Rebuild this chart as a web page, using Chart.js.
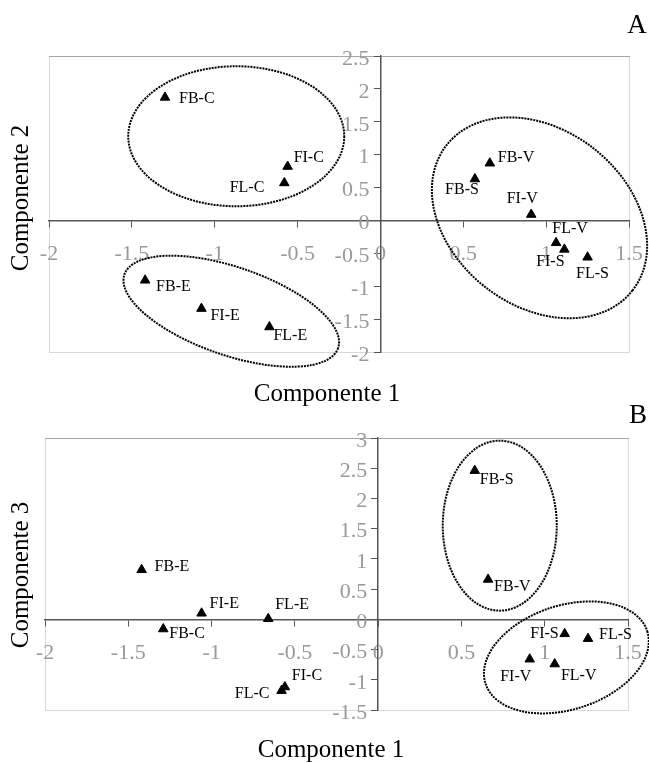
<!DOCTYPE html>
<html>
<head>
<meta charset="utf-8">
<script src="https://cdn.jsdelivr.net/npm/chart.js@4.4.1/dist/chart.umd.min.js"></script>
<style>
  body { margin: 0; background: #fff; }
  #paineis { position: relative; width: 649px; height: 763px; }
  #paineis canvas { position: absolute; left: 0; display: block; }
  #graficoA { top: 0; }
  #graficoB { top: 380px; }
</style>
</head>
<body>
<div id="paineis">
  <canvas id="graficoA" width="649" height="410"></canvas>
  <canvas id="graficoB" width="649" height="383"></canvas>
</div>
<script>
// Tratamentos (mesma ordem nos dois gráficos)
const tratamentos = ['FB-C', 'FI-C', 'FL-C', 'FB-E', 'FI-E', 'FL-E', 'FB-V', 'FB-S', 'FI-V', 'FL-V', 'FI-S', 'FL-S'];

// Gráfico A: componente 1 x componente 2
const componente1A = [-1.30, -0.56, -0.58, -1.42, -1.08, -0.67, 0.66, 0.57, 0.91, 1.06, 1.11, 1.25];
const componente2A = [1.87, 0.82, 0.57, -0.91, -1.34, -1.62, 0.87, 0.63, 0.09, -0.34, -0.44, -0.56];

// Gráfico B: componente 1 x componente 3
const componente1B = [-1.29, -0.56, -0.58, -1.42, -1.06, -0.66, 0.66, 0.58, 0.91, 1.06, 1.12, 1.26];
const componente3B = [-0.16, -1.12, -1.18, 0.82, 0.10, 0.01, 0.66, 2.46, -0.66, -0.74, -0.24, -0.32];

// Limites dos eixos
const limitesXA = [-2, 1.5];
const limitesYA = [-2, 2.5];
const limitesXB = [-2, 1.5];
const limitesYB = [-1.5, 3];

// Posição dos rótulos em relação ao ponto: [dx, dy, alinhamento]
const rotulosA = [
    [14, 1, 'left'], [6, -9, 'left'], [-20, 5, 'right'],
    [11, 6, 'left'], [9, 7, 'left'], [4, 9, 'left'],
    [8, -5, 'left'], [4, 11, 'right'], [-9, -16, 'center'],
    [14, -14, 'center'], [-14, 12, 'center'], [5, 17, 'center']
];
const rotulosB = [
    [6, 5, 'left'], [7, -11, 'left'], [-12, 3, 'right'],
    [13, -3, 'left'], [8, -9, 'left'], [7, -14, 'left'],
    [6, 7, 'left'], [5, 9, 'left'], [-14, 18, 'center'],
    [24, 12, 'center'], [-6, 0, 'right'], [11, -4, 'left']
];

// Elipses de agrupamento: centro em unidades dos eixos, raios em px, rotação em graus
const elipsesA = [
    { cx: -0.87, cy: 1.28, rx: 108, ry: 70, rot: 0 },
    { cx: -0.90, cy: -1.38, rx: 113, ry: 44, rot: 19 },
    { cx: 0.96, cy: 0.04, rx: 118, ry: 88, rot: 38 }
];
const elipsesB = [
    { cx: 0.73, cy: 1.55, rx: 57, ry: 85, rot: 0 },
    { cx: 1.13, cy: -0.63, rx: 85, ry: 52, rot: -18 }
];

const fonte = 'Liberation Serif';

// Plugin para moldura, elipses, rótulos e títulos
const anotacoes = {
    id: 'anotacoes',
    beforeDraw(chart, args, opts) {
        const { ctx, chartArea: a } = chart;
        ctx.save();
        ctx.lineWidth = 1;
        ctx.strokeStyle = '#d9d9d9';
        ctx.strokeRect(a.left + 0.5, a.top + 0.5, a.right - a.left, a.bottom - a.top);
        ctx.strokeStyle = '#a6a6a6';
        ctx.beginPath();
        ctx.moveTo(a.left, a.top + 0.5);
        ctx.lineTo(a.right + 1, a.top + 0.5);
        ctx.stroke();
        ctx.restore();
    },
    afterDatasetsDraw(chart, args, opts) {
        const { ctx } = chart;
        const x = chart.scales.x;
        const y = chart.scales.y;

        // elipses pontilhadas
        ctx.save();
        ctx.strokeStyle = '#000';
        ctx.lineWidth = 2;
        ctx.setLineDash([2, 1]);
        opts.elipses.forEach(e => {
            ctx.beginPath();
            ctx.ellipse(x.getPixelForValue(e.cx), y.getPixelForValue(e.cy), e.rx, e.ry,
                e.rot * Math.PI / 180, 0, 2 * Math.PI);
            ctx.stroke();
        });
        ctx.restore();

        // rótulos dos pontos
        const meta = chart.getDatasetMeta(0);
        ctx.save();
        ctx.font = '16px "' + fonte + '"';
        ctx.fillStyle = '#000';
        ctx.textBaseline = 'middle';
        meta.data.forEach((pt, i) => {
            const [dx, dy, al] = opts.rotulos[i];
            ctx.textAlign = al;
            ctx.fillText(tratamentos[i], pt.x + dx, pt.y + dy);
        });
        ctx.restore();

        // títulos dos eixos e letra do painel
        ctx.save();
        ctx.fillStyle = '#000';
        ctx.textBaseline = 'alphabetic';
        ctx.textAlign = 'center';
        ctx.font = '25px "' + fonte + '"';
        ctx.fillText(opts.tituloX, opts.posTituloX[0], opts.posTituloX[1]);
        ctx.save();
        ctx.translate(opts.posTituloY[0], opts.posTituloY[1]);
        ctx.rotate(-Math.PI / 2);
        ctx.fillText(opts.tituloY, 0, 0);
        ctx.restore();
        ctx.font = '27px "' + fonte + '"';
        ctx.fillText(opts.letra, opts.posLetra[0], opts.posLetra[1]);
        ctx.restore();
    }
};

function montarEixos(limX, limY) {
    const corEixo = '#555';
    const ticksComuns = {
        stepSize: 0.5,
        autoSkip: false,
        maxRotation: 0,
        color: '#999'
    };
    return {
        x: {
            type: 'linear',
            min: limX[0],
            max: limX[1],
            position: { y: 0 },
            border: { display: true, color: corEixo, width: 1.5 },
            grid: { drawOnChartArea: false, drawTicks: true, tickLength: 6, tickColor: corEixo },
            ticks: Object.assign({}, ticksComuns, {
                padding: 6,
                font: { family: fonte, size: 22, lineHeight: 2 },
                callback: v => String(v)
            })
        },
        y: {
            type: 'linear',
            min: limY[0],
            max: limY[1],
            position: { x: 0 },
            border: { display: true, color: corEixo, width: 1.5 },
            grid: { drawOnChartArea: false, drawTicks: true, tickLength: 6, tickColor: corEixo },
            ticks: Object.assign({}, ticksComuns, {
                labelOffset: 3,
                font: { family: fonte, size: 22 },
                callback: v => String(v) + '\u2002'
            })
        }
    };
}

function criarGrafico(idCanvas, valoresX, valoresY, limX, limY, padding, anot) {
    const pontos = valoresX.map((v, i) => ({ x: v, y: valoresY[i] }));
    new Chart(document.getElementById(idCanvas), {
        type: 'scatter',
        data: {
            datasets: [{
                data: pontos,
                pointStyle: 'triangle',
                pointRadius: 5.5,
                backgroundColor: '#000',
                borderColor: '#000',
                borderWidth: 1
            }]
        },
        options: {
            responsive: false,
            animation: false,
            devicePixelRatio: 1,
            events: [],
            layout: { padding: padding },
            scales: montarEixos(limX, limY),
            plugins: {
                legend: { display: false },
                tooltip: { enabled: false },
                anotacoes: anot
            }
        },
        plugins: [anotacoes]
    });
}

criarGrafico('graficoA', componente1A, componente2A, limitesXA, limitesYA,
    { left: 49, right: 20, top: 56, bottom: 58 },
    {
        elipses: elipsesA, rotulos: rotulosA,
        tituloX: 'Componente 1', posTituloX: [327, 401],
        tituloY: 'Componente 2', posTituloY: [28, 198],
        letra: 'A', posLetra: [637, 33]
    });

criarGrafico('graficoB', componente1B, componente3B, limitesXB, limitesYB,
    { left: 45, right: 21, top: 58, bottom: 53 },
    {
        elipses: elipsesB, rotulos: rotulosB,
        tituloX: 'Componente 1', posTituloX: [331, 377],
        tituloY: 'Componente 3', posTituloY: [28, 195],
        letra: 'B', posLetra: [638, 43]
    });
</script>
</body>
</html>
